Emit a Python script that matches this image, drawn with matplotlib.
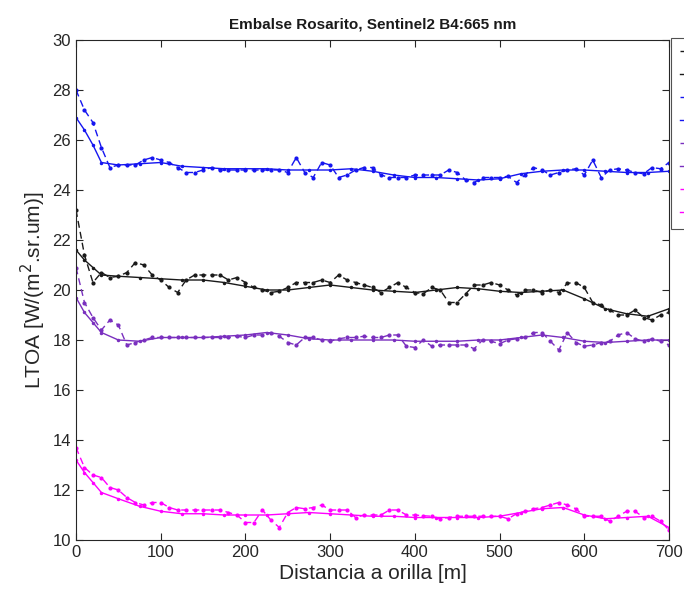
import numpy as np
import matplotlib
matplotlib.use("Agg")
import matplotlib.pyplot as plt

plt.rcParams['font.family'] = ['Liberation Sans', 'DejaVu Sans']

# ---------------- data ----------------
x_raw = list(range(0, 701, 10))
x_fit = [0, 10, 20, 30] + list(range(50, 701, 25))

black_raw = [23.2, 21.4, 20.3, 20.7, 20.5, 20.55, 20.7, 21.1, 21.0, 20.6,
             20.4, 20.1, 19.9, 20.4, 20.6, 20.6, 20.6, 20.6, 20.4, 20.5,
             20.3, 20.1, 20.0, 19.9, 19.95, 20.1, 20.3, 20.3, 20.3, 20.4,
             20.3, 20.6, 20.4, 20.3, 20.2, 20.1, 19.9, 20.1, 20.3, 20.1,
             19.9, 19.85, 20.1, 20.0, 19.5, 19.5, 19.85, 20.2, 20.2, 20.3,
             20.2, 20.0, 19.8, 20.0, 20.0, 19.9, 20.0, 19.9, 20.27, 20.3,
             20.1, 19.5, 19.4, 19.2, 19.0, 19.0, 19.2, 18.9, 18.8, 19.0, 19.1]
black_fit = [21.6, 21.2, 20.9, 20.6, 20.55, 20.5, 20.45, 20.4, 20.4, 20.3,
             20.15, 20.0, 20.0, 20.1, 20.2, 20.1, 20.0, 19.95, 19.9, 20.0,
             20.1, 20.05, 19.95, 19.9, 19.95, 20.0, 19.65, 19.25, 19.05, 18.95, 19.25]

blue_raw = [28.0, 27.2, 26.7, 25.7, 24.9, 25.0, 25.0, 25.0, 25.2, 25.3,
            25.2, 25.1, 24.9, 24.7, 24.7, 24.8, 24.9, 24.8, 24.8, 24.8,
            24.8, 24.8, 24.8, 24.8, 24.8, 24.7, 25.3, 24.7, 24.5, 25.1,
            25.0, 24.5, 24.6, 24.8, 24.9, 24.9, 24.6, 24.5, 24.5, 24.5,
            24.6, 24.6, 24.6, 24.6, 24.8, 24.7, 24.4, 24.3, 24.5, 24.5,
            24.5, 24.55, 24.3, 24.6, 24.9, 24.8, 24.6, 24.7, 24.8, 24.85,
            24.6, 25.2, 24.5, 24.8, 24.85, 24.8, 24.7, 24.65, 24.9, 24.85, 25.1]
blue_fit = [26.9, 26.4, 25.8, 25.1, 25.0, 25.05, 25.1, 24.95, 24.9, 24.85,
            24.85, 24.85, 24.8, 24.8, 24.8, 24.85, 24.75, 24.6, 24.5, 24.5,
            24.45, 24.4, 24.45, 24.65, 24.75, 24.8, 24.8, 24.75, 24.7, 24.7, 24.75]

purple_raw = [20.9, 19.5, 18.9, 18.4, 18.8, 18.6, 17.8, 17.9, 18.0, 18.1,
              18.1, 18.1, 18.1, 18.1, 18.1, 18.1, 18.1, 18.1, 18.1, 18.15,
              18.1, 18.2, 18.2, 18.3, 18.15, 17.9, 17.8, 18.1, 18.1, 18.0,
              17.95, 18.05, 18.1, 18.1, 18.15, 18.1, 18.1, 18.2, 18.2, 17.75,
              17.7, 18.0, 17.75, 17.8, 17.8, 17.8, 17.8, 17.65, 18.0, 17.95,
              17.85, 18.0, 18.05, 18.1, 18.3, 18.3, 17.95, 17.6, 18.3, 17.9,
              17.75, 17.8, 17.9, 17.95, 18.2, 18.3, 18.05, 17.95, 18.05, 17.95, 17.8]
purple_fit = [19.7, 19.1, 18.7, 18.3, 18.0, 17.95, 18.1, 18.1, 18.1, 18.15,
              18.2, 18.3, 18.2, 18.05, 18.0, 18.0, 18.0, 18.0, 17.95, 17.95,
              17.95, 18.0, 18.0, 18.1, 18.2, 18.1, 17.95, 17.9, 17.95, 18.0, 18.0]

magenta_raw = [13.7, 12.9, 12.6, 12.5, 12.1, 12.0, 11.7, 11.5, 11.4, 11.5,
               11.5, 11.3, 11.2, 11.2, 11.2, 11.2, 11.2, 11.2, 11.1, 11.0,
               10.7, 10.7, 11.2, 10.8, 10.5, 11.1, 11.3, 11.25, 11.3, 11.4,
               11.2, 11.2, 11.2, 10.9, 11.0, 11.0, 11.0, 11.2, 11.2, 11.0,
               11.0, 10.97, 10.95, 10.85, 10.9, 10.95, 10.95, 10.95, 10.95, 10.95,
               10.95, 10.85, 11.05, 11.15, 11.25, 11.3, 11.4, 11.5, 11.4, 11.25,
               10.95, 10.95, 10.95, 10.75, 10.95, 11.15, 11.15, 10.9, 10.95, 10.75, 10.4]
magenta_fit = [13.2, 12.7, 12.3, 11.9, 11.65, 11.35, 11.15, 11.05, 11.05, 11.0,
               11.0, 11.0, 11.05, 11.1, 11.05, 11.0, 10.95, 10.95, 10.9, 10.9,
               10.9, 10.9, 10.95, 11.1, 11.25, 11.3, 11.0, 10.85, 10.9, 10.95, 10.5]

colors = ['#1a1a1a', '#1515F0', '#7A2FBF', '#FF00FF']
raws = [black_raw, blue_raw, purple_raw, magenta_raw]
fits = [black_fit, blue_fit, purple_fit, magenta_fit]

title = 'Embalse Rosarito, Sentinel2 B4:665 nm'
xlabel = 'Distancia a orilla [m]'
ylabel = 'LTOA [W/(m$^2$.sr.um)]'
xticks = list(range(0, 701, 100))
yticks = list(range(10, 31, 2))

# ---------------- plot ----------------
fig = plt.figure(figsize=(6.84, 5.98), dpi=100)
ax = fig.add_axes([76/684, 58/598, 593/684, 500/598])

handles = []
for c, r, f in zip(colors, raws, fits):
    h1, = ax.plot(x_raw, r, color=c, lw=1.0, ls=(0, (5, 3)), marker='.', ms=4)
    h2, = ax.plot(x_fit, f, color=c, lw=1.0, ls='-', marker='.', ms=3)
    handles += [h1, h2]

ax.set_xlim(0, 700)
ax.set_ylim(10, 30)
ax.set_xticks(xticks)
ax.set_yticks(yticks)
ax.tick_params(direction='in', top=True, right=True, length=5,
               labelsize=12, colors='#262626', width=0.8)
for s in ax.spines.values():
    s.set_color('#262626')
    s.set_linewidth(0.8)
ax.set_title(title, fontsize=11, fontweight='bold', color='#1a1a1a', pad=8)
ax.set_xlabel(xlabel, fontsize=15, color='#262626', labelpad=3)
ax.set_ylabel(ylabel, fontsize=15, color='#262626', labelpad=3)

leg = fig.legend(handles, [' '] * 8, loc='upper left',
                 bbox_to_anchor=(671/684, 1 - 38/598),
                 handlelength=2.5, labelspacing=0.88, fontsize=9,
                 frameon=True, fancybox=False, edgecolor='#262626',
                 borderpad=0.7, borderaxespad=0)
leg.get_frame().set_linewidth(0.8)

fig.savefig('out.png', dpi=100)
